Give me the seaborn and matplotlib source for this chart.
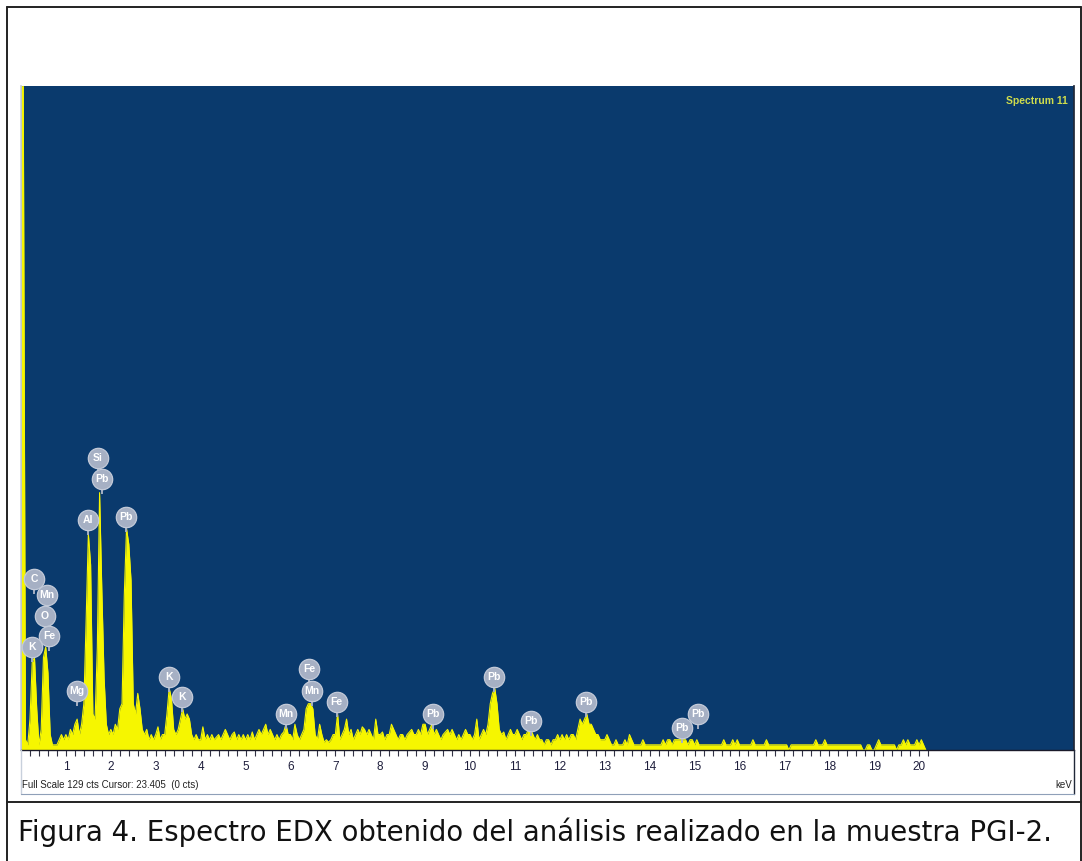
import numpy as np
import matplotlib
matplotlib.use("Agg")
import matplotlib.pyplot as plt
from matplotlib.lines import Line2D
import seaborn as sns

# EDX spectrum, counts per 0.05 keV step (one row = 1 keV)
counts = [
    129, 129, 2, 1, 6, 17, 18, 8, 1, 4, 18, 20, 15, 3, 1, 1, 1, 2, 3, 2,          # 0
    3, 2, 4, 3, 5, 6, 3, 5, 9, 25, 42, 36, 7, 6, 20, 50, 31, 14, 5, 3,           # 1
    4, 3, 5, 4, 8, 9, 30, 43, 40, 33, 9, 7, 11, 8, 4, 3, 4, 2, 3, 2,             # 2
    3, 4.5, 2, 3, 3, 7, 12, 10, 4, 3, 4, 6, 8, 6, 7, 6, 3, 2, 3, 2,              # 3
    2, 4.5, 2, 3, 2, 3, 2, 2.5, 3, 2, 3, 4, 3, 2, 3, 3.5, 2, 3, 2, 3,            # 4
    2, 3, 2, 3.5, 2, 3, 4, 3, 4, 5, 3, 4, 3, 2, 3, 2, 3, 3.5, 5, 3,              # 5
    3, 2, 5, 3, 2, 3, 4, 8, 9, 9, 8, 3, 2, 5, 3, 1.5, 2, 1.5, 2, 3,              # 6
    3, 7, 2, 3, 4, 6, 3, 4, 2, 3, 4, 3, 4.5, 4, 3, 4, 3, 2, 6, 3,                # 7
    3, 3.5, 2, 3, 3, 5, 4, 3, 2, 3, 3, 2, 3, 3.5, 4, 3, 3, 4, 3, 5,              # 8
    5, 3, 4, 5, 3, 4, 3, 2, 3, 3.5, 4, 3, 4, 3, 2, 3, 2, 3, 4, 3,                # 9
    3, 2, 3, 6, 2, 3, 4, 3, 5, 9, 11, 12, 9, 4, 3, 3.5, 2, 3, 4, 3,              # 10
    3, 4, 3, 2, 3, 3, 4, 4, 3, 2, 3, 2, 2, 1, 2, 2, 1, 2, 2, 3,                  # 11
    2, 3, 2, 3, 2, 3, 3, 2, 4, 6, 5, 6, 7, 5, 5, 4, 3, 3, 2, 2,                  # 12
    2, 3, 2, 1, 1, 2, 1, 1, 1, 2, 1, 3, 2, 1, 1, 1, 1, 2, 1, 1,                  # 13
    1, 1, 1, 1, 1, 1, 2, 1, 2, 2, 1, 2, 2, 2, 2, 2, 2, 1, 2, 2,                  # 14
    1, 2, 1, 1, 1, 1, 1, 1, 1, 1, 1, 1, 1, 2, 1, 1, 1, 2, 1, 2,                  # 15
    1, 1, 1, 1, 1, 1, 2, 1, 1, 1, 1, 1, 2, 1, 1, 1, 1, 1, 1, 1,                  # 16
    1, 1, 0, 1, 1, 1, 1, 1, 1, 1, 1, 1, 1, 1, 2, 1, 1, 1, 2, 1,                  # 17
    1, 1, 1, 1, 1, 1, 1, 1, 1, 1, 1, 1, 1, 1, 1, 0, 0, 1, 1, 0,                  # 18
    0, 1, 2, 1, 1, 1, 1, 1, 1, 1, 0, 1, 1, 2, 1, 2, 1, 1, 1, 2,                  # 19
    1, 2, 1, 0,                                                                 # 20
]
energy = [round(0.05 * i, 2) for i in range(len(counts))]

# peak identification labels
label_names = ["C", "Mn", "O", "Fe", "K", "Mg", "Al", "Si", "Pb", "Pb", "K", "K",
               "Mn", "Fe", "Mn", "Fe", "Pb", "Pb", "Pb", "Pb", "Pb", "Pb"]
label_kev = [0.29, 0.58, 0.53, 0.62, 0.24, 1.25, 1.49, 1.71, 1.80, 2.34, 3.29, 3.58,
             5.90, 6.41, 6.47, 7.03, 9.17, 10.54, 11.35, 12.59, 14.73, 15.08]
label_cts = [33.2, 30.1, 26.0, 22.2, 20.0, 11.5, 44.7, 56.7, 52.6, 45.3, 14.2, 10.3,
             7.0, 15.7, 11.5, 9.3, 7.0, 14.2, 5.6, 9.3, 4.3, 7.0]

full_scale = 129
x_max = 23.45

sns.set_theme(style="white")
plt.rcParams['font.family'] = ['Liberation Sans', 'DejaVu Sans']

W, H = 1082, 861
fig = plt.figure(figsize=(W / 100, H / 100), dpi=100)
fig.patch.set_facecolor("white")

# plot area in pixel coordinates
left, right, top, bottom = 21, 1074, 86, 750
ax = fig.add_axes([left / W, 1 - bottom / H, (right - left) / W, (bottom - top) / H])
ax.set_facecolor("#0a3a6d")

yellow = "#f6f600"
ax.fill_between(energy, counts, 0, color=yellow, lw=0)
sns.lineplot(x=energy, y=counts, color=yellow, lw=0.8, ax=ax)

ax.set_xlim(0, x_max)
ax.set_ylim(0, full_scale)
ax.set_yticks([])
ax.set_xticks(range(1, 21))
ax.set_xticks(np.arange(0.2, 20.3, 0.2), minor=True)
ax.tick_params(axis="x", which="both", direction="out", bottom=True, color="#333344",
               length=4, width=0.8, labelsize=8.5, labelcolor="#1e1e3c", pad=4)
ax.set_xlabel("")
ax.set_ylabel("")
for name, sp in ax.spines.items():
    sp.set_visible(name in ("bottom", "right", "left"))
ax.spines["bottom"].set_color("#1a1a2a")
ax.spines["bottom"].set_linewidth(1.0)
ax.spines["right"].set_color("#202838")
ax.spines["left"].set_color("#c8d0dc")

ax.text(0.9945, 0.985, "Spectrum 11", transform=ax.transAxes, ha="right", va="top",
        fontsize=7.5, color="#cfdc4c", fontweight="bold")

# element bubbles
bubble = "#a6b0c4"
for name, kx, ky in zip(label_names, label_kev, label_cts):
    ax.plot([kx, kx], [ky - 2.9, ky - 1.6], color=bubble, lw=1.4, solid_capstyle="butt",
            zorder=4)
    ax.scatter([kx], [ky], s=215, color=bubble, edgecolor="#c3cad8", linewidth=0.9,
               zorder=5)
    ax.text(kx, ky, name, ha="center", va="center", fontsize=7.5, color="white",
            fontweight="bold", zorder=6)

# status line under the axis
fig.text(22 / W, 1 - 785 / H, "Full Scale 129 cts Cursor: 23.405  (0 cts)",
         ha="left", va="center", fontsize=7, color="#222222")
fig.text(1072 / W, 1 - 785 / H, "keV", ha="right", va="center", fontsize=7, color="#222222")

# frames
def line(x0, y0, x1, y1, **kw):
    fig.add_artist(Line2D([x0 / W, x1 / W], [1 - y0 / H, 1 - y1 / H], **kw))

line(left, bottom, left, 794, color="#c8d0dc", lw=1)
line(right, bottom, right, 794, color="#202838", lw=1)
line(left, 794, right, 794, color="#8fa0b8", lw=0.8)

line(7, 7, 1081, 7, color="#222222", lw=1.4)
line(7, 7, 7, 861, color="#222222", lw=1.4)
line(1081, 7, 1081, 861, color="#222222", lw=1.4)
line(7, 802, 1081, 802, color="#222222", lw=1.4)

fig.text(18 / W, 1 - 832 / H,
         "Figura 4. Espectro EDX obtenido del análisis realizado en la muestra PGI-2.",
         ha="left", va="center", fontsize=19.8, color="#111111", family="DejaVu Sans")

fig.savefig("out.png", dpi=100)
